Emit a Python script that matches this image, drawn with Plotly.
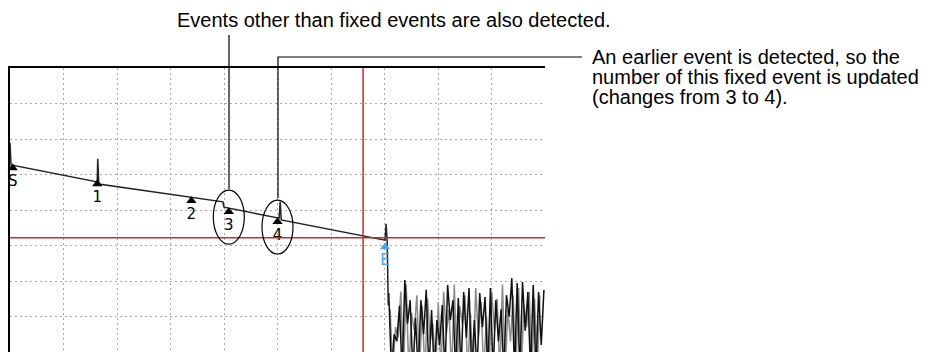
import plotly.graph_objects as go

# ---------------- data ----------------
# main OTDR trace (distance in divisions, level in divisions)
trace_x = [0.00, 0.02, 1.63, 1.64, 1.66, 3.98, 4.00, 5.03, 5.05, 5.07, 7.01, 7.03, 7.05, 7.07]
trace_y = [5.89, 5.27, 4.79, 5.44, 4.73, 4.23, 4.08, 3.77, 4.23, 3.72, 3.15, 3.61, 3.10, 1.32]

# noise after the fiber end
noise_start = 7.08
noise_step = 0.05
noise_black = [1.66, -0.6, 0.50, 0.3, 1.30, -0.6, 2.03, 0.8, 1.46, -0.6, 0.96, -0.6, 1.46, 0.5,
               1.75, -0.6, 1.18, -0.6, 0.90, 0.2, 1.32, -0.6, 1.89, 0.9, 1.46, -0.6, 1.52, -0.6,
               1.69, 0.4, 1.80, -0.6, 0.90, -0.6, 1.66, 0.7, 1.55, -0.6, 1.80, -0.6, 1.46, 0.3,
               1.20, -0.6, 1.60, 1.0, 2.08, -0.6, 1.94, -0.6, 1.97, 0.6, 1.69, -0.6, 1.89, -0.6,
               1.69, 0.2, 1.75]
noise_grey = [1.20, -0.6, 0.70, 0.4, 1.70, -0.6, 1.90, -0.6, 1.10, 0.6, 1.60, -0.6, 1.30, -0.6,
              1.50, 0.3, 0.80, -0.6, 1.40, -0.6, 1.70, 0.5, 1.20, -0.6, 1.90, -0.6, 1.30, 0.8,
              1.60, -0.6, 1.10, -0.6, 1.80, 0.4, 1.40, -0.6, 1.00, -0.6, 1.70, 0.6, 1.50, -0.6,
              1.90, -0.6, 1.20, 0.3, 1.60, -0.6, 1.80, -0.6, 1.30, 0.7, 1.70, -0.6, 1.50, -0.6,
              1.60]

# event markers
event_labels = ["S", "1", "2", "3", "4", "E"]
event_x = [0.05, 1.63, 3.39, 4.09, 5.00, 7.01]
event_y = [5.18, 4.73, 4.26, 3.95, 3.67, 2.96]
event_colors = ["black", "black", "black", "black", "black", "#4aa3f0"]

# cursors
cursor_x = 6.60
cursor_y = 3.22

# circled events (3 and 4)
circled = [3, 4]

top_note = "Events other than fixed events are also detected."
side_note = ["An earlier event is detected, so the",
             "number of this fixed event is updated",
             "(changes from 3 to 4)."]

# ---------------- layout geometry ----------------
W, H = 943, 352
L, T, R, B = 10, 68, 545, 352


def paper(px, py):
    return (px - L) / (R - L), (B - py) / (B - T)


nb_x = [noise_start + noise_step * i for i in range(len(noise_black))]
ng_x = [noise_start + noise_step / 2 + noise_step * i for i in range(len(noise_grey))]

fig = go.Figure()
fig.add_trace(go.Scatter(x=ng_x, y=noise_grey, mode="lines",
                         line=dict(color="#8a8a8a", width=1.5), hoverinfo="skip"))
fig.add_trace(go.Scatter(x=nb_x, y=noise_black, mode="lines",
                         line=dict(color="#111111", width=1.5), hoverinfo="skip"))
fig.add_trace(go.Scatter(x=trace_x, y=trace_y, mode="lines",
                         line=dict(color="#222222", width=1.5), hoverinfo="skip"))
fig.add_trace(go.Scatter(x=event_x, y=event_y, mode="markers+text",
                         marker=dict(symbol="triangle-up", size=9, color=event_colors),
                         text=event_labels, textposition="bottom center",
                         textfont=dict(family="DejaVu Sans", size=15, color=event_colors),
                         hoverinfo="skip", cliponaxis=False))

shapes = []
# cursor lines
shapes.append(dict(type="line", xref="paper", yref="y", x0=0, x1=1, y0=cursor_y, y1=cursor_y,
                   line=dict(color="#c03030", width=1.5)))
shapes.append(dict(type="line", xref="x", yref="paper", x0=cursor_x, x1=cursor_x, y0=0, y1=1,
                   line=dict(color="#c03030", width=1.5)))
# ellipses around events 3 and 4
hw, hh = 0.29, 0.76
for i in circled:
    cx, cy = event_x[i], event_y[i] - 0.15
    shapes.append(dict(type="circle", xref="x", yref="y", x0=cx - hw, x1=cx + hw,
                       y0=cy - hh, y1=cy + hh, line=dict(color="black", width=1.2)))
# leader lines
ax0, ay0 = paper(229, 35)
ax1, ay1 = paper(229, 189)
shapes.append(dict(type="line", xref="paper", yref="paper", x0=ax0, y0=ay0, x1=ax1, y1=ay1,
                   line=dict(color="black", width=1.2)))
bx0, by0 = paper(582, 57)
bx1, by1 = paper(278, 57)
bx2, by2 = paper(278, 198)
shapes.append(dict(type="path", xref="paper", yref="paper",
                   path=f"M {bx0} {by0} L {bx1} {by1} L {bx2} {by2}",
                   line=dict(color="black", width=1.2)))

annotations = []
tx, ty = paper(394, 20)
annotations.append(dict(text=top_note, xref="paper", yref="paper", x=tx, y=ty,
                        xanchor="center", yanchor="middle", showarrow=False,
                        font=dict(family="Liberation Sans", size=20, color="black")))
for k, line in enumerate(side_note):
    sx, sy = paper(590, 57 + 20 * k)
    annotations.append(dict(text=line, xref="paper", yref="paper", x=sx, y=sy,
                            xanchor="left", yanchor="middle", showarrow=False,
                            font=dict(family="Liberation Sans", size=20, color="black")))

grid = dict(showgrid=True, gridcolor="#a8a8a8", gridwidth=1, griddash="2px,3px",
            zeroline=False, ticks="", showticklabels=False, fixedrange=True)

fig.update_layout(
    width=W, height=H,
    margin=dict(l=L, r=W - R, t=T, b=H - B, autoexpand=False),
    paper_bgcolor="white", plot_bgcolor="white",
    showlegend=False,
    xaxis=dict(range=[0, 10], tick0=0, dtick=1, side="top", showline=True,
               linecolor="black", linewidth=2, mirror=False, **grid),
    yaxis=dict(range=[0, 8], tick0=0, dtick=1, showline=True,
               linecolor="black", linewidth=2, mirror=False, **grid),
    shapes=shapes, annotations=annotations,
)

fig.write_html("out.html", config=dict(displayModeBar=False),
               post_script="document.body.style.margin='0';document.body.style.overflow='hidden';")
